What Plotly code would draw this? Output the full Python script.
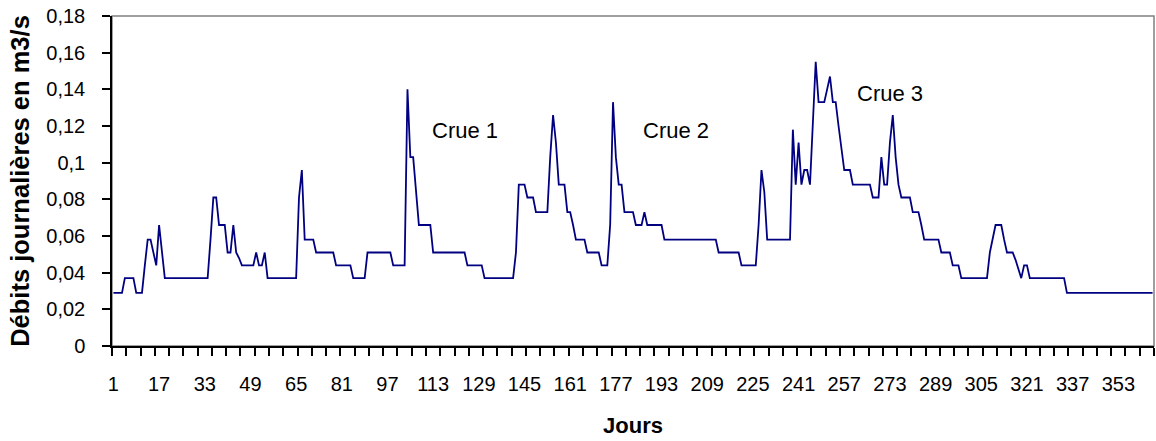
import plotly.graph_objects as go

# ---- data ----
days = list(range(1, 366))

debits = [
    # 1-10
    0.029, 0.029, 0.029, 0.029, 0.037, 0.037, 0.037, 0.037, 0.029, 0.029,
    # 11-20
    0.029, 0.044, 0.058, 0.058, 0.051, 0.044, 0.066, 0.051, 0.037, 0.037,
    # 21-30
    0.037, 0.037, 0.037, 0.037, 0.037, 0.037, 0.037, 0.037, 0.037, 0.037,
    # 31-40
    0.037, 0.037, 0.037, 0.037, 0.058, 0.081, 0.081, 0.066, 0.066, 0.066,
    # 41-50
    0.051, 0.051, 0.066, 0.051, 0.048, 0.044, 0.044, 0.044, 0.044, 0.044,
    # 51-60
    0.051, 0.044, 0.044, 0.051, 0.037, 0.037, 0.037, 0.037, 0.037, 0.037,
    # 61-70
    0.037, 0.037, 0.037, 0.037, 0.037, 0.081, 0.096, 0.058, 0.058, 0.058,
    # 71-80
    0.058, 0.051, 0.051, 0.051, 0.051, 0.051, 0.051, 0.051, 0.044, 0.044,
    # 81-90
    0.044, 0.044, 0.044, 0.044, 0.037, 0.037, 0.037, 0.037, 0.037, 0.051,
    # 91-100
    0.051, 0.051, 0.051, 0.051, 0.051, 0.051, 0.051, 0.051, 0.044, 0.044,
    # 101-110
    0.044, 0.044, 0.044, 0.140, 0.103, 0.103, 0.085, 0.066, 0.066, 0.066,
    # 111-120
    0.066, 0.066, 0.051, 0.051, 0.051, 0.051, 0.051, 0.051, 0.051, 0.051,
    # 121-130
    0.051, 0.051, 0.051, 0.051, 0.044, 0.044, 0.044, 0.044, 0.044, 0.044,
    # 131-140
    0.037, 0.037, 0.037, 0.037, 0.037, 0.037, 0.037, 0.037, 0.037, 0.037,
    # 141-150
    0.037, 0.051, 0.088, 0.088, 0.088, 0.081, 0.081, 0.081, 0.073, 0.073,
    # 151-160
    0.073, 0.073, 0.073, 0.103, 0.126, 0.111, 0.088, 0.088, 0.088, 0.073,
    # 161-170
    0.073, 0.066, 0.058, 0.058, 0.058, 0.058, 0.051, 0.051, 0.051, 0.051,
    # 171-180
    0.051, 0.044, 0.044, 0.044, 0.066, 0.133, 0.103, 0.088, 0.088, 0.073,
    # 181-190
    0.073, 0.073, 0.073, 0.066, 0.066, 0.066, 0.073, 0.066, 0.066, 0.066,
    # 191-200
    0.066, 0.066, 0.066, 0.058, 0.058, 0.058, 0.058, 0.058, 0.058, 0.058,
    # 201-210
    0.058, 0.058, 0.058, 0.058, 0.058, 0.058, 0.058, 0.058, 0.058, 0.058,
    # 211-220
    0.058, 0.058, 0.051, 0.051, 0.051, 0.051, 0.051, 0.051, 0.051, 0.051,
    # 221-230
    0.044, 0.044, 0.044, 0.044, 0.044, 0.044, 0.066, 0.096, 0.084, 0.058,
    # 231-240
    0.058, 0.058, 0.058, 0.058, 0.058, 0.058, 0.058, 0.058, 0.118, 0.088,
    # 241-250
    0.111, 0.088, 0.096, 0.096, 0.088, 0.120, 0.155, 0.133, 0.133, 0.133,
    # 251-260
    0.140, 0.147, 0.133, 0.133, 0.120, 0.108, 0.096, 0.096, 0.096, 0.088,
    # 261-270
    0.088, 0.088, 0.088, 0.088, 0.088, 0.088, 0.081, 0.081, 0.081, 0.103,
    # 271-280
    0.088, 0.088, 0.111, 0.126, 0.103, 0.088, 0.081, 0.081, 0.081, 0.081,
    # 281-290
    0.073, 0.073, 0.073, 0.066, 0.058, 0.058, 0.058, 0.058, 0.058, 0.058,
    # 291-300
    0.051, 0.051, 0.051, 0.051, 0.044, 0.044, 0.044, 0.037, 0.037, 0.037,
    # 301-310
    0.037, 0.037, 0.037, 0.037, 0.037, 0.037, 0.037, 0.051, 0.058, 0.066,
    # 311-320
    0.066, 0.066, 0.058, 0.051, 0.051, 0.051, 0.047, 0.042, 0.037, 0.044,
    # 321-330
    0.044, 0.037, 0.037, 0.037, 0.037, 0.037, 0.037, 0.037, 0.037, 0.037,
    # 331-340
    0.037, 0.037, 0.037, 0.037, 0.029, 0.029, 0.029, 0.029, 0.029, 0.029,
    # 341-350
    0.029, 0.029, 0.029, 0.029, 0.029, 0.029, 0.029, 0.029, 0.029, 0.029,
    # 351-360
    0.029, 0.029, 0.029, 0.029, 0.029, 0.029, 0.029, 0.029, 0.029, 0.029,
    # 361-365
    0.029, 0.029, 0.029, 0.029, 0.029,
]

x_tick_vals = [1, 17, 33, 49, 65, 81, 97, 113, 129, 145, 161, 177, 193,
               209, 225, 241, 257, 273, 289, 305, 321, 337, 353]
x_tick_text = [str(v) for v in x_tick_vals]

y_tick_vals = [0, 0.02, 0.04, 0.06, 0.08, 0.10, 0.12, 0.14, 0.16, 0.18]
y_tick_text = ["0", "0,02", "0,04", "0,06", "0,08", "0,1", "0,12", "0,14", "0,16", "0,18"]

crue_labels = ["Crue 1", "Crue 2", "Crue 3"]

# ---- figure ----
FONT = "Liberation Sans, Arial, sans-serif"

fig = go.Figure()
fig.add_trace(go.Scatter(
    x=days, y=debits, mode="lines",
    line=dict(color="#000080", width=1.8),
    hoverinfo="skip", showlegend=False,
))

annots = []
for label, ax_, ay_ in zip(crue_labels, [124.0, 198.0, 273.1], [0.1178, 0.1178, 0.1375]):
    annots.append(dict(x=ax_, y=ay_, xref="x", yref="y", text=label, showarrow=False,
                       font=dict(family=FONT, size=22, color="black"),
                       xanchor="center", yanchor="middle"))

fig.update_layout(
    width=1156, height=441,
    margin=dict(l=112, r=2, t=16, b=95),
    paper_bgcolor="white", plot_bgcolor="white",
    font=dict(family=FONT, size=20, color="black"),
    showlegend=False,
    annotations=annots,
    shapes=[dict(type="rect", xref="paper", yref="paper", x0=0, y0=0, x1=1, y1=1,
                 line=dict(color="#808080", width=1.5), layer="below")],
    xaxis=dict(
        range=[0.5, 365.5], tickmode="array", tickvals=x_tick_vals, ticktext=x_tick_text,
        ticks="", showgrid=False, zeroline=False,
        showline=True, linecolor="black", linewidth=1.5,
        ticklabelstandoff=19,
        tickfont=dict(family=FONT, size=20, color="black"),
        minor=dict(tickmode="linear", tick0=0.5, dtick=5, ticks="outside",
                   ticklen=8, tickcolor="black", tickwidth=1.5, showgrid=False),
        title=dict(text="<b>Jours</b>", font=dict(family=FONT, size=22, color="black"),
                   standoff=24),
        automargin=False,
    ),
    yaxis=dict(
        range=[0, 0.18], tickmode="array", tickvals=y_tick_vals, ticktext=y_tick_text,
        ticks="outside", ticklen=8, tickcolor="black", tickwidth=1.5,
        showgrid=False, zeroline=False,
        showline=True, linecolor="black", linewidth=1.5,
        ticklabelstandoff=13,
        tickfont=dict(family=FONT, size=20, color="black"),
        title=dict(text="<b>Débits journalières en m3/s</b>",
                   font=dict(family=FONT, size=25.5, color="black"), standoff=9),
        automargin=False,
    ),
)

fig.write_html("out.html", config={"displayModeBar": False},
               post_script="document.body.style.margin='0px';")
